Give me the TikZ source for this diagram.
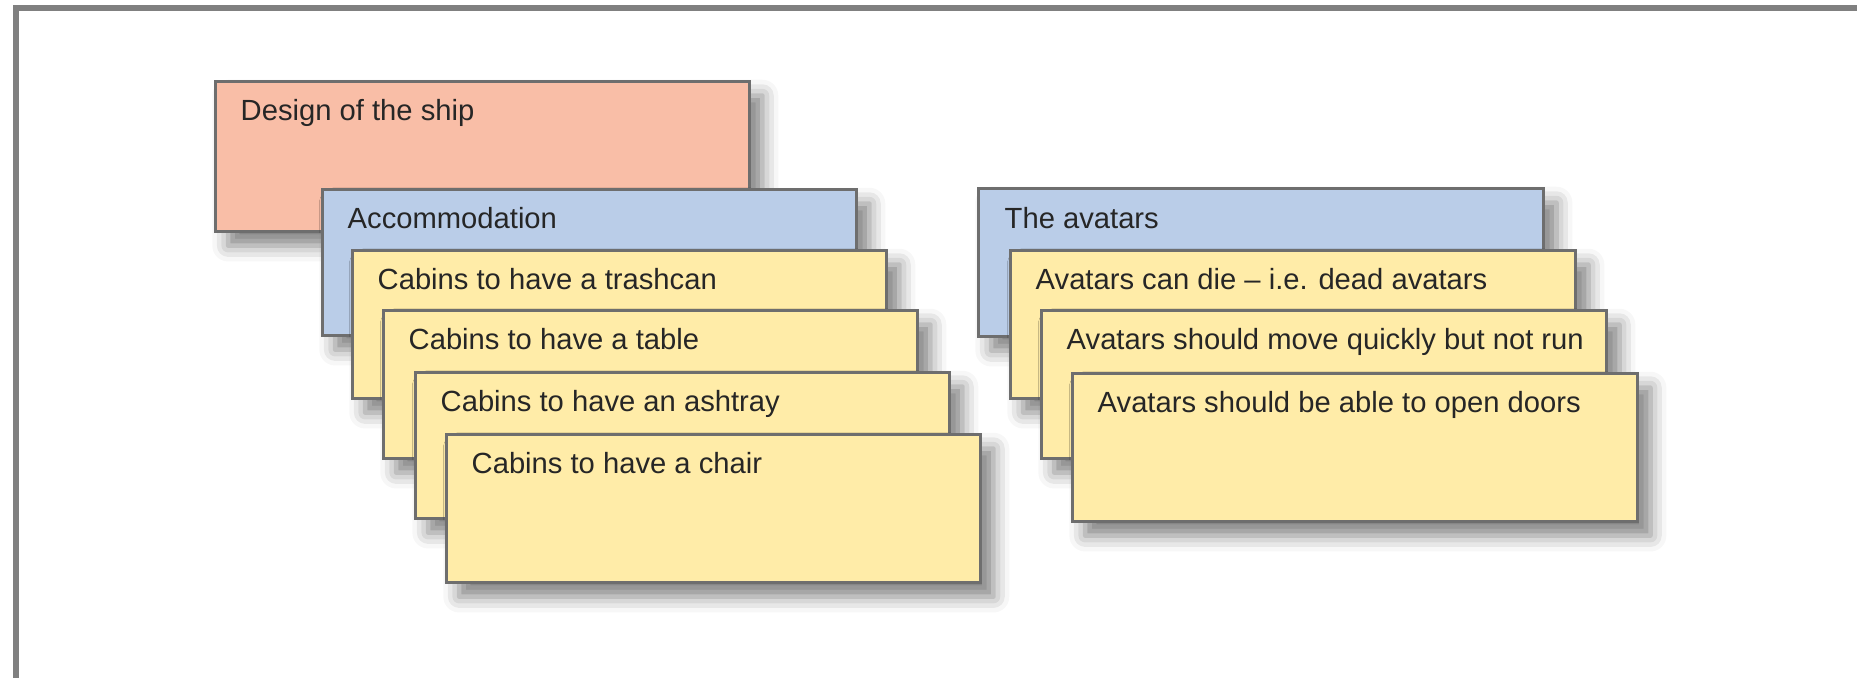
\documentclass[tikz,border=0pt]{standalone}
\usepackage{fontspec}
\setmainfont{Liberation Sans}
\usepackage{tikz}
\usetikzlibrary{calc,shadows.blur}
\usepackage{xcolor}
\definecolor{cardsalmon}{RGB}{249,190,167}
\definecolor{cardblue}{RGB}{186,205,232}
\definecolor{cardyellow}{RGB}{255,236,168}
\definecolor{cardline}{RGB}{110,110,110}
\definecolor{framegray}{RGB}{128,128,128}

\begin{document}
\begin{tikzpicture}[x=0.01cm,y=-0.01cm]
  \tikzset{notecard/.style={draw=cardline,line width=0.85pt,anchor=north west,inner sep=0pt,
      minimum width=5.34cm,minimum height=1.48cm,
      blur shadow={shadow xshift=3.6pt,shadow yshift=-4pt,shadow blur radius=4.5pt,shadow opacity=50}}}
  \tikzset{widecard/.style={notecard,minimum width=5.65cm}}
  \tikzset{notetext/.style={anchor=base west,inner sep=0pt,font=\fontsize{8.3}{10}\selectfont,text=black!85}}
  \useasboundingbox (0,0) rectangle (1857,678);
  \draw[framegray,line width=1.7pt] (1857,8) -- (16,8) -- (16,678);
  % left stack
  \node[notecard,fill=cardsalmon,minimum height=1.5cm] (ship) at (214,80) {};
  \node[notetext] (shipt) at ($(ship.north west)+(26,40)$) {Design of the ship};
  \node[notecard,fill=cardblue,minimum height=1.46cm] (accom) at (321,188) {};
  \node[notetext] (accomt) at ($(accom.north west)+(26,40)$) {Accommodation};
  \node[notecard,fill=cardyellow] (trash) at (351,249) {};
  \node[notetext] (trasht) at ($(trash.north west)+(26,40)$) {Cabins to have a trashcan};
  \node[notecard,fill=cardyellow] (table) at (382,309) {};
  \node[notetext] (tablet) at ($(table.north west)+(26,40)$) {Cabins to have a table};
  \node[notecard,fill=cardyellow,minimum height=1.46cm] (ashtray) at (414,371) {};
  \node[notetext] (ashtrayt) at ($(ashtray.north west)+(26,40)$) {Cabins to have an ashtray};
  \node[notecard,fill=cardyellow] (chair) at (445,433) {};
  \node[notetext] (chairt) at ($(chair.north west)+(26,40)$) {Cabins to have a chair};
  % right stack
  \node[widecard,fill=cardblue] (avatars) at (977,187) {};
  \node[notetext] (avatarst) at ($(avatars.north west)+(27,41)$) {The avatars};
  \node[widecard,fill=cardyellow] (die) at (1009,249) {};
  \node[notetext] (diet) at ($(die.north west)+(26,40)$) {Avatars can die -- i.e. dead avatars};
  \node[widecard,fill=cardyellow] (quick) at (1040,309) {};
  \node[notetext] (quickt) at ($(quick.north west)+(26,40)$) {Avatars should move quickly but not run};
  \node[widecard,fill=cardyellow] (doors) at (1071,372) {};
  \node[notetext] (doorst) at ($(doors.north west)+(26,40)$) {Avatars should be able to open doors};
\end{tikzpicture}
\end{document}
